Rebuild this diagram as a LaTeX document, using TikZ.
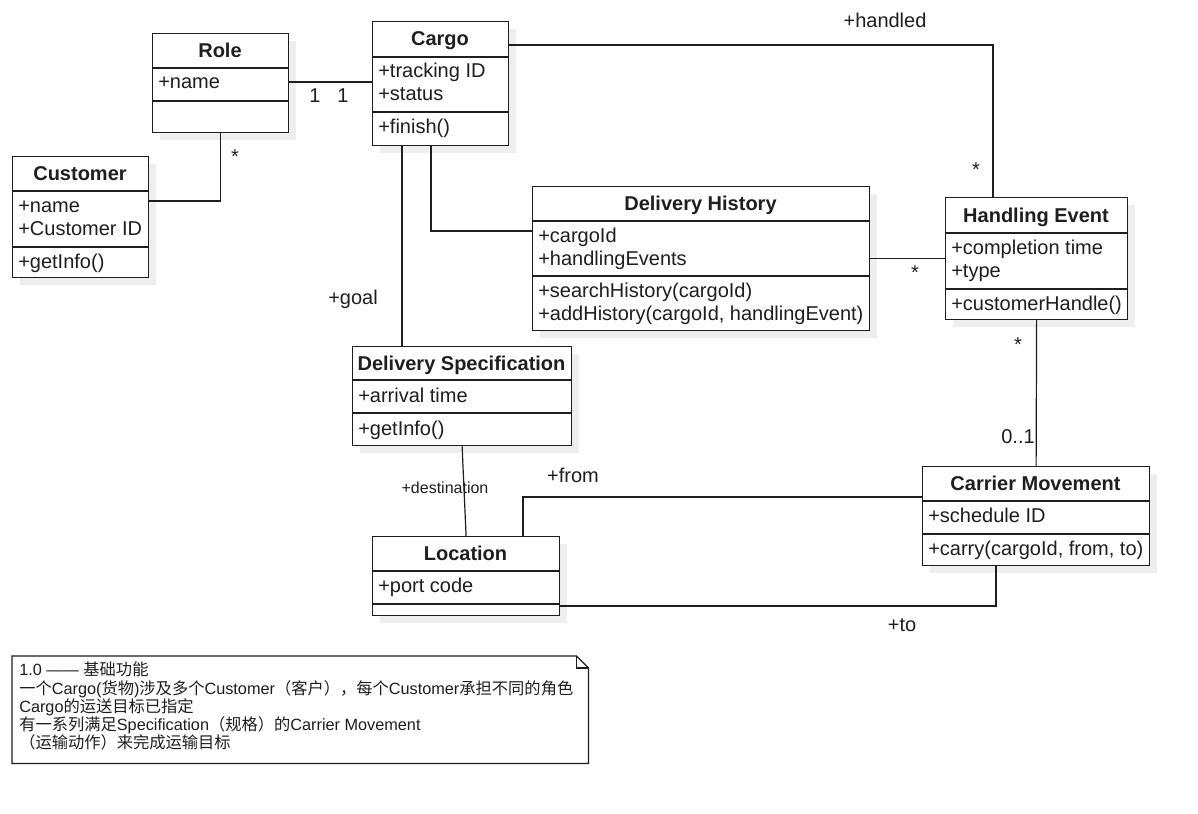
\documentclass[tikz,border=0pt]{standalone}
\usepackage{fontspec}
\setmainfont{Liberation Sans}
\newfontfamily\cjk{Noto Sans CJK SC}
\usetikzlibrary{calc}
\definecolor{linec}{RGB}{30,30,30}
\definecolor{shadowc}{RGB}{238,238,238}
\newcommand\zh[1]{{\cjk #1}}
\pgfdeclarelayer{bg}
\pgfsetlayers{bg,main}
\tikzset{
  conn/.style={draw=linec, line width=0.9pt},
  classbox/.style={draw=linec, line width=0.9pt, fill=white, inner sep=0pt, anchor=north west},
  ctitle/.style={font=\bfseries\fontsize{15}{18}\selectfont, anchor=base, inner sep=0pt, text=linec},
  member/.style={font=\fontsize{15}{18}\selectfont, anchor=base west, inner sep=0pt, text=linec},
  lbl/.style={font=\fontsize{15}{18}\selectfont, anchor=base, inner sep=0pt, text=linec},
  smalllbl/.style={font=\fontsize{12}{14}\selectfont, anchor=base, inner sep=0pt, text=linec},
  notetext/.style={font=\fontsize{12.2}{14}\selectfont, anchor=base west, inner sep=0pt, text=linec},
}
% #1 name, #2 x, #3 y, #4 w, #5 h, #6 div1, #7 div2, #8 title
\newcommand\umlclass[8]{%
  \begin{pgfonlayer}{bg}
    \fill[shadowc] ({#2+8},{#3+8}) rectangle ++(#4,#5);
  \end{pgfonlayer}
  \node[classbox, minimum width=#4*0.75pt, minimum height=#5*0.75pt] (#1) at (#2,#3) {};
  \draw[conn] (#2,#6) -- ++(#4,0);
  \draw[conn] (#2,#7) -- ++(#4,0);
  \node[ctitle] (#1-title) at ({#2+#4/2},{(#3+#6)/2+7}) {#8};
}
\begin{document}
\begin{tikzpicture}[x=0.75pt,y=-0.75pt]
\useasboundingbox (0,0) rectangle (1198,813);
\begin{pgfonlayer}{bg}
\fill[white] (0,0) rectangle (1198,813);
\end{pgfonlayer}

% classes
\umlclass{role}{152}{33}{136}{99}{68}{101}{Role}
\node[member] (role-a1) at (158,89) {+name};

\umlclass{cargo}{372}{21}{136}{124}{57}{112}{Cargo}
\node[member] (cargo-a1) at (378,78) {+tracking ID};
\node[member] (cargo-a2) at (378,101) {+status};
\node[member] (cargo-m1) at (378,133) {+finish()};

\umlclass{customer}{12}{156}{136}{121}{191}{247}{Customer}
\node[member] (customer-a1) at (18,212) {+name};
\node[member] (customer-a2) at (18,235) {+Customer ID};
\node[member] (customer-m1) at (18,268) {+getInfo()};

\umlclass{dhist}{532}{186}{337}{144}{221}{276}{Delivery History}
\node[member] (dhist-a1) at (538,242) {+cargoId};
\node[member] (dhist-a2) at (538,265) {+handlingEvents};
\node[member] (dhist-m1) at (538,297) {+searchHistory(cargoId)};
\node[member] (dhist-m2) at (538,320) {+addHistory(cargoId, handlingEvent)};

\umlclass{hevent}{945}{197}{182}{122}{233}{289}{Handling Event}
\node[member] (hevent-a1) at (951,254) {+completion time};
\node[member] (hevent-a2) at (951,277) {+type};
\node[member] (hevent-m1) at (951,310) {+customerHandle()};

\umlclass{dspec}{352}{346}{219}{99}{380}{413}{Delivery Specification}
\node[member] (dspec-a1) at (358,402) {+arrival time};
\node[member] (dspec-m1) at (358,435) {+getInfo()};

\umlclass{location}{372}{536}{187}{79}{571}{604}{Location}
\node[member] (location-a1) at (378,592) {+port code};

\umlclass{carrier}{922}{466}{227}{99}{501}{534}{Carrier Movement}
\node[member] (carrier-a1) at (928,522) {+schedule ID};
\node[member] (carrier-m1) at (928,555) {+carry(cargoId, from, to)};

% connectors
\draw[conn] (role.east |- 0,82) -- (cargo.west |- 0,82);
\draw[conn] (customer.east |- 0,201) -| (role.south);
\draw[conn] (cargo.east |- 0,45) -| (hevent.north -| 993,0);
\draw[conn] (cargo.south -| 402,0) -- (dspec.north -| 402,0);
\draw[conn] (cargo.south -| 431,0) |- (dhist.west |- 0,231);
\draw[conn] (dhist.east) -- (hevent.west);
\draw[conn] (hevent.south) -- (carrier.north);
\draw[conn] (dspec.south) -- (location.north);
\draw[conn] (location.north -| 523,0) |- (carrier.west |- 0,497);
\draw[conn] (location.east |- 0,606) -| (carrier.south -| 996,0);

% labels
\node[lbl] (l-handled) at (885,28) {+handled};
\node[lbl] (l-one1) at (315,103) {1};
\node[lbl] (l-one2) at (343,103) {1};
\node[lbl] (l-star1) at (235,164) {*};
\node[lbl] (l-star2) at (976,176) {*};
\node[lbl] (l-star3) at (915,279) {*};
\node[lbl] (l-star4) at (1018,351) {*};
\node[lbl] (l-zeroone) at (1018,443) {0..1};
\node[lbl] (l-goal) at (353,304) {+goal};
\node[smalllbl] (l-dest) at (445,493) {+destination};
\node[lbl] (l-from) at (573,482) {+from};
\node[lbl] (l-to) at (902,631) {+to};

% note
\node[inner sep=0pt, anchor=north west, minimum width=576*0.75pt, minimum height=107*0.75pt] (note) at (12,656) {};
\draw[conn, fill=white] (note.north west) -- ([xshift=-9pt]note.north east) -- ([yshift=-9pt]note.north east) -- (note.south east) -- (note.south west) -- cycle;
\draw[conn] ([xshift=-9pt]note.north east) -- ([xshift=-9pt,yshift=-9pt]note.north east) -- ([yshift=-9pt]note.north east);
\node[notetext] (n1) at (19,675) {1.0 —— \zh{基础功能}};
\node[notetext] (n2) at (19,694) {\zh{一个}Cargo(\zh{货物})\zh{涉及多个}Customer\zh{（客户），每个}Customer\zh{承担不同的角色}};
\node[notetext] (n3) at (19,712) {Cargo\zh{的运送目标已指定}};
\node[notetext] (n4) at (19,730) {\zh{有一系列满足}Specification\zh{（规格）的}Carrier Movement};
\node[notetext] (n5) at (19,748) {\zh{（运输动作）来完成运输目标}};
\end{tikzpicture}
\end{document}
